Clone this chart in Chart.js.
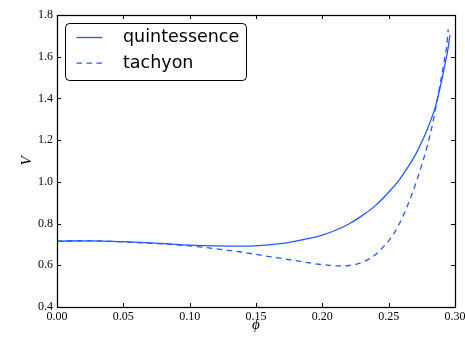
<!DOCTYPE html>
<html>
<head>
<meta charset="utf-8">
<title>V vs phi</title>
<script src="https://cdn.jsdelivr.net/npm/chart.js@4/dist/chart.umd.min.js"></script>
<style>
  body { margin: 0; background: #fff; }
  canvas { display: block; }
</style>
</head>
<body>
<canvas id="chart" width="465" height="343"></canvas>
<script>
// values
const phiQuint = [0, 0.025, 0.05, 0.075, 0.10, 0.12, 0.14, 0.16, 0.17, 0.18, 0.19, 0.20, 0.21, 0.22, 0.23, 0.24, 0.25, 0.258, 0.265, 0.271, 0.277, 0.281, 0.285, 0.2894, 0.292, 0.2945, 0.2962];
const vQuint = [0.716, 0.717, 0.713, 0.706, 0.697, 0.693, 0.692, 0.698, 0.705, 0.716, 0.729, 0.745, 0.768, 0.798, 0.838, 0.886, 0.950, 1.010, 1.075, 1.140, 1.220, 1.282, 1.355, 1.470, 1.550, 1.630, 1.704];

const phiTach = [0, 0.025, 0.05, 0.075, 0.10, 0.12, 0.14, 0.16, 0.18, 0.195, 0.205, 0.213, 0.22, 0.226, 0.231, 0.2397, 0.2472, 0.2548, 0.261, 0.266, 0.2711, 0.2749, 0.2786, 0.2824, 0.2849, 0.2894, 0.2919, 0.2937, 0.2949];
const vTach = [0.716, 0.717, 0.712, 0.704, 0.693, 0.679, 0.662, 0.642, 0.622, 0.607, 0.600, 0.597, 0.599, 0.606, 0.617, 0.649, 0.697, 0.761, 0.838, 0.915, 1.005, 1.080, 1.160, 1.258, 1.335, 1.490, 1.580, 1.650, 1.731];

const seriesLabels = ["quintessence", "tachyon"];
const xTicks = [0, 0.05, 0.10, 0.15, 0.20, 0.25, 0.30];
const yTicks = [0.4, 0.6, 0.8, 1.0, 1.2, 1.4, 1.6, 1.8];

const lineBlue = "#2458ff";
const serif = "'Liberation Serif', 'DejaVu Serif', serif";

function toPoints(xs, ys) {
    return xs.map((x, i) => ({ x: x, y: ys[i] }));
}

// box around the plot with inward ticks on all four sides
const frameAndTicks = {
    id: "frameAndTicks",
    afterDatasetsDraw(chart) {
        const { ctx, chartArea: a, scales } = chart;
        ctx.save();
        ctx.strokeStyle = "#000";
        ctx.lineWidth = 1;
        ctx.beginPath();
        xTicks.forEach(v => {
            const px = Math.round(scales.x.getPixelForValue(v)) + 0.5;
            ctx.moveTo(px, a.bottom); ctx.lineTo(px, a.bottom - 4);
            ctx.moveTo(px, a.top); ctx.lineTo(px, a.top + 4);
        });
        yTicks.forEach(v => {
            const py = Math.round(scales.y.getPixelForValue(v)) + 0.5;
            ctx.moveTo(a.left, py); ctx.lineTo(a.left + 4, py);
            ctx.moveTo(a.right, py); ctx.lineTo(a.right - 4, py);
        });
        ctx.stroke();
        ctx.lineWidth = 1.25;
        ctx.strokeRect(Math.round(a.left) + 0.5, Math.round(a.top) + 0.5,
            Math.round(a.right - a.left), Math.round(a.bottom - a.top));
        ctx.restore();
    }
};

// legend drawn inside the plot, upper left, with a rounded frame
const boxLegend = {
    id: "boxLegend",
    afterDraw(chart) {
        const { ctx, chartArea: a } = chart;
        const x0 = Math.round(a.left) + 8.5, y0 = Math.round(a.top) + 8.5;
        ctx.save();
        ctx.beginPath();
        ctx.roundRect(x0, y0, 181, 57, 4);
        ctx.fillStyle = "#fff";
        ctx.fill();
        ctx.strokeStyle = "#000";
        ctx.lineWidth = 1;
        ctx.stroke();
        chart.data.datasets.forEach((ds, i) => {
            const y = y0 + 14 + i * 25.7;
            ctx.setLineDash(ds.borderDash || []);
            ctx.strokeStyle = ds.borderColor;
            ctx.lineWidth = ds.borderWidth;
            ctx.beginPath();
            ctx.moveTo(x0 + 11, y);
            ctx.lineTo(x0 + 37, y);
            ctx.stroke();
            ctx.setLineDash([]);
            ctx.fillStyle = "#000";
            ctx.font = "17.5px 'DejaVu Sans'";
            ctx.textBaseline = "middle";
            ctx.fillText(ds.label, x0 + 57.5, y);
        });
        ctx.restore();
    }
};

new Chart(document.getElementById("chart"), {
    type: "line",
    data: {
        datasets: [{
            label: seriesLabels[0],
            data: toPoints(phiQuint, vQuint),
            borderColor: lineBlue,
            borderWidth: 1.3,
            pointRadius: 0,
            fill: false,
            cubicInterpolationMode: "monotone"
        }, {
            label: seriesLabels[1],
            data: toPoints(phiTach, vTach),
            borderColor: lineBlue,
            borderWidth: 1.3,
            borderDash: [5.5, 4.5],
            pointRadius: 0,
            fill: false,
            cubicInterpolationMode: "monotone"
        }]
    },
    options: {
        responsive: false,
        animation: false,
        devicePixelRatio: 1,
        layout: { padding: { top: 15, right: 10, left: 0, bottom: 0 } },
        plugins: {
            legend: { display: false },
            tooltip: { enabled: false }
        },
        scales: {
            x: {
                type: "linear",
                min: 0,
                max: 0.3,
                afterBuildTicks: s => { s.ticks = xTicks.map(v => ({ value: v })); },
                afterFit: s => { s.height = 36; s.paddingLeft = 0; s.paddingRight = 0; },
                ticks: {
                    color: "#000",
                    padding: 3,
                    maxRotation: 0,
                    font: { family: serif, size: 12 },
                    callback: v => v.toFixed(2)
                },
                grid: { display: false, drawTicks: false },
                border: { display: false },
                title: {
                    display: true,
                    text: "ϕ",
                    color: "#000",
                    font: { family: serif, size: 15, style: "italic" },
                    padding: { top: 0, bottom: 9 }
                }
            },
            y: {
                min: 0.4,
                max: 1.8,
                afterBuildTicks: s => { s.ticks = yTicks.map(v => ({ value: v })); },
                afterFit: s => { s.width = 57; s.paddingTop = 0; s.paddingBottom = 0; },
                ticks: {
                    color: "#000",
                    padding: 4,
                    font: { family: serif, size: 12 },
                    callback: v => v.toFixed(1)
                },
                grid: { display: false, drawTicks: false },
                border: { display: false },
                title: {
                    display: true,
                    text: "V",
                    color: "#000",
                    font: { family: serif, size: 15, style: "italic" },
                    padding: { top: 18, bottom: 0 }
                }
            }
        }
    },
    plugins: [frameAndTicks, boxLegend]
});
</script>
</body>
</html>
